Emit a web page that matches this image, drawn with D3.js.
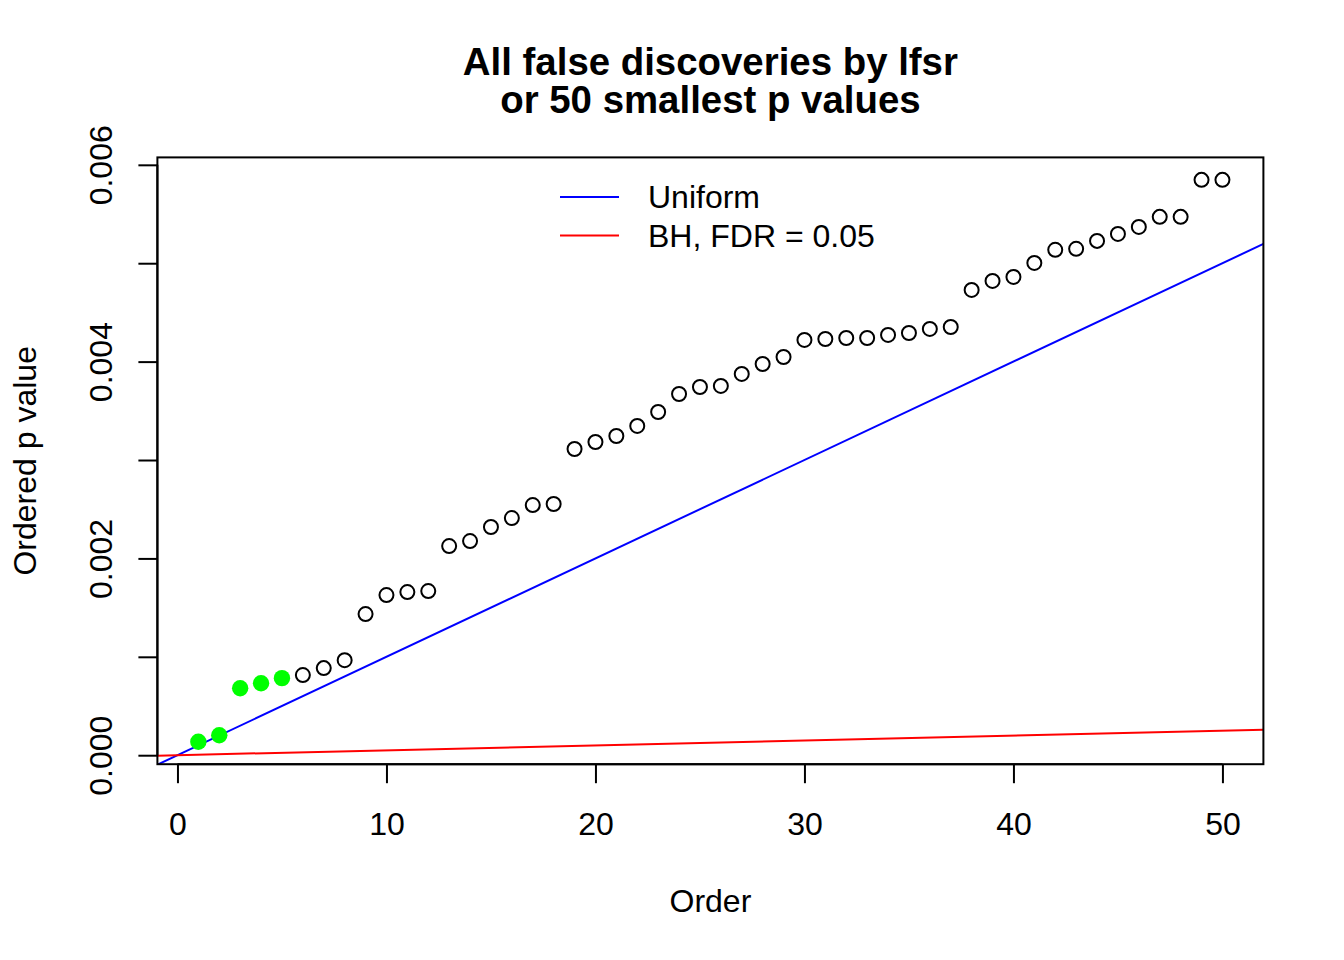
<!DOCTYPE html>
<html><head><meta charset="utf-8">
<script src="https://cdn.jsdelivr.net/npm/d3@7"></script>
<style>body{margin:0;background:#fff}svg{display:block}text{font-family:"Liberation Sans",Arial,sans-serif}</style>
</head><body>
<svg id="c" width="1344" height="960"></svg>
<script>
const orders = d3.range(1, 51);
const pvalues = [0.000137,0.000203,0.000681,0.000732,0.000783,0.000814,0.000885,0.000966,0.001434,0.001627,
0.001658,0.001668,0.002125,0.002176,0.002319,0.002410,0.002542,0.002553,0.003112,0.003183,
0.003244,0.003346,0.003488,0.003671,0.003742,0.003753,0.003875,0.003976,0.004047,0.004220,
0.004230,0.004240,0.004240,0.004271,0.004291,0.004332,0.004352,0.004729,0.004820,0.004861,
0.005003,0.005136,0.005146,0.005227,0.005298,0.005369,0.005471,0.005471,0.005847,0.005847];
const discovered = [1,2,3,4,5];
const xTicks = [0,10,20,30,40,50];
const yTicks = [0,0.001,0.002,0.003,0.004,0.005,0.006];
const yTickLabels = ["0.000","","0.002","","0.004","","0.006"];
const nTests = 10000, fdr = 0.05;
const legendItems = [{label:"Uniform", color:"#0000ff"},{label:"BH, FDR = 0.05", color:"#ff0000"}];
const titleLines = ["All false discoveries by lfsr","or 50 smallest p values"];

const svg = d3.select("#c");
const L=157.4, R=1263.4, T=157.4, B=764.2;
const xr = 49*0.04, ymin=d3.min(pvalues), ymax=d3.max(pvalues), yr=(ymax-ymin)*0.04;
const x = d3.scaleLinear().domain([1-xr, 50+xr]).range([L,R]);
const y = d3.scaleLinear().domain([ymin-yr, ymax+yr]).range([B,T]);

const defs = svg.append("defs");
defs.append("clipPath").attr("id","clip").append("rect").attr("x",L).attr("y",T).attr("width",R-L).attr("height",B-T);
const g = svg.append("g").attr("clip-path","url(#clip)");
const lineFn = d3.line().x(d=>x(d[0])).y(d=>y(d[1]));
const xs = x.domain();
g.append("path").attr("d", lineFn(xs.map(v=>[v, v/nTests]))).attr("stroke","#0000ff").attr("stroke-width",2).attr("fill","none");
g.append("path").attr("d", lineFn(xs.map(v=>[v, v*fdr/nTests]))).attr("stroke","#ff0000").attr("stroke-width",2).attr("fill","none");

g.selectAll("circle.p").data(orders.map((o,i)=>({o, p:pvalues[i], d:discovered.includes(o)}))).join("circle")
 .attr("cx",d=>x(d.o)).attr("cy",d=>y(d.p))
 .attr("r",d=>d.d?8.2:7.0)
 .attr("fill",d=>d.d?"#00ff00":"none")
 .attr("stroke",d=>d.d?"none":"#000").attr("stroke-width",2);

svg.append("rect").attr("x",L).attr("y",T).attr("width",R-L).attr("height",B-T).attr("fill","none").attr("stroke","#000").attr("stroke-width",2);

const xAxis = d3.axisBottom(x).tickValues(xTicks).tickSize(19).tickFormat(d3.format("d"));
const ax = svg.append("g").attr("transform",`translate(0,${B})`).call(xAxis);
ax.select(".domain").attr("d",`M${x(0)},0H${x(50)}`).attr("stroke-width",2);
ax.selectAll(".tick line").attr("stroke-width",2);
ax.selectAll(".tick text").attr("font-size",32).attr("fill","#000").attr("y",71).attr("dy",0);

const yAxis = d3.axisLeft(y).tickValues(yTicks).tickSize(19).tickFormat((d,i)=>yTickLabels[i]);
const ay = svg.append("g").attr("transform",`translate(${L},0)`).call(yAxis);
ay.select(".domain").attr("d",`M0,${y(0)}V${y(0.006)}`).attr("stroke-width",2);
ay.selectAll(".tick line").attr("stroke-width",2);
ay.selectAll(".tick text").attr("font-size",32).attr("fill","#000")
  .attr("transform","rotate(-90)").attr("x",0).attr("y",-45).attr("dy",0).attr("text-anchor","middle");

svg.append("text").attr("x",(L+R)/2).attr("y",912).attr("text-anchor","middle").attr("font-size",32).text("Order");
svg.append("text").attr("transform",`translate(36,${(T+B)/2}) rotate(-90)`).attr("text-anchor","middle").attr("font-size",32).text("Ordered p value");

const title = svg.append("text").attr("x",(L+R)/2).attr("y",75).attr("text-anchor","middle").attr("font-size",38.4).attr("font-weight","bold");
titleLines.forEach((t,i)=>title.append("tspan").attr("x",(L+R)/2).attr("y",75+i*38.4).text(t));

const lg = svg.append("g");
legendItems.forEach((it,i)=>{
  const yy = 197+i*38.4;
  lg.append("line").attr("x1",560).attr("x2",619).attr("y1",yy).attr("y2",yy).attr("stroke",it.color).attr("stroke-width",2);
  lg.append("text").attr("x",648).attr("y",yy).attr("dy","0.35em").attr("font-size",32).text(it.label);
});
</script>
</body></html>
